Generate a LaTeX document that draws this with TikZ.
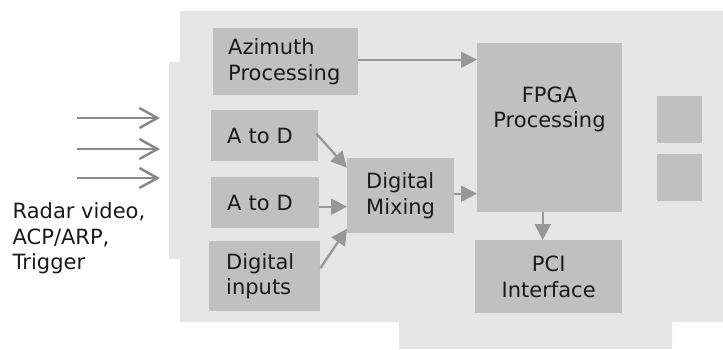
\documentclass[tikz,border=0pt]{standalone}
\usepackage{fontspec}
\setmainfont{DejaVu Sans}
\usetikzlibrary{arrows.meta,calc}
\definecolor{boardgray}{HTML}{E6E6E6}
\definecolor{boxgray}{HTML}{C0C0C0}
\definecolor{arrowgray}{HTML}{979797}
\definecolor{ingray}{HTML}{888888}
\definecolor{txtcol}{HTML}{1A1A1A}
\begin{document}
\begin{tikzpicture}[x=1pt,y=-1pt,
  lbl/.style={inner sep=0pt, text=txtcol, font=\fontsize{21}{25.3}\selectfont},
  box/.style={lbl, fill=boxgray, anchor=north west},
  chip/.style={fill=boxgray, inner sep=0pt, anchor=north west, minimum width=45pt, minimum height=47pt},
  link/.style={draw=arrowgray, line width=2.3pt, -{Triangle[length=16pt,width=16pt]}},
  inarrow/.style={draw=ingray, line width=2.5pt, -{Straight Barb[length=18pt,width=20pt]}}]
\useasboundingbox (0,0) rectangle (723,349);
% board
\fill[boardgray] (180,11) -- (723,11) -- (723,322) -- (672,322) -- (672,349) -- (399,349)
  -- (399,322) -- (180,322) -- (180,259) -- (169,259) -- (169,62) -- (180,62) -- cycle;
% boxes
\node[box, text width=115pt, inner xsep=15pt, minimum height=67pt, align=left] (az) at (213,28) {Azimuth\\Processing};
\node[box, text width=75pt, inner xsep=16pt, minimum height=51pt, align=left] (ad1) at (211,110) {A to D};
\node[box, text width=76pt, inner xsep=16pt, minimum height=51pt, align=left] (ad2) at (211,177) {A to D};
\node[box, text width=77pt, inner xsep=17pt, minimum height=70pt, align=left] (di) at (209,241) {Digital\\inputs};
\node[box, text width=69pt, inner xsep=19pt, minimum height=75pt, align=left] (mix) at (347,158) {Digital\\Mixing};
\node[box, minimum width=145pt, minimum height=169pt] (fpga) at (477,43) {};
\node[lbl, align=center] (fpgatext) at (549.5,109.5) {FPGA\\Processing};
\node[box, minimum width=147pt, minimum height=73pt, align=center] (pci) at (475,240) {PCI\\Interface};
\node[chip] (chipa) at (657,96) {};
\node[chip] (chipb) at (657,154) {};
% inputs
\coordinate (s1) at (77,118); \coordinate (e1) at (160,118);
\coordinate (s2) at (77,149); \coordinate (e2) at (160,149);
\coordinate (s3) at (77,178); \coordinate (e3) at (160,178);
\draw[inarrow] (s1) -- (e1);
\draw[inarrow] (s2) -- (e2);
\draw[inarrow] (s3) -- (e3);
\node[lbl, align=left, anchor=north west] (inputs) at (12.5,202.7) {Radar video,\\ACP/ARP,\\Trigger};
% connectors
\draw[link] ([yshift=2pt]az.east) -- ([yshift=2pt]az.east -| fpga.west);
\draw[link] ([xshift=-2pt,yshift=2pt]ad1.east) -- ([yshift=28pt]mix.west);
\draw[link] ([yshift=-4pt]ad2.east) -- ([yshift=-4pt]ad2.east -| mix.west);
\draw[link] ([yshift=8pt]di.east) -- ([yshift=-33pt]mix.west);
\draw[link] ([yshift=2pt]mix.east) -- ([yshift=2pt]mix.east -| fpga.west);
\draw[link] ([xshift=-7pt]fpga.south) -- ([xshift=-7pt]fpga.south |- pci.north);
\end{tikzpicture}
\end{document}
